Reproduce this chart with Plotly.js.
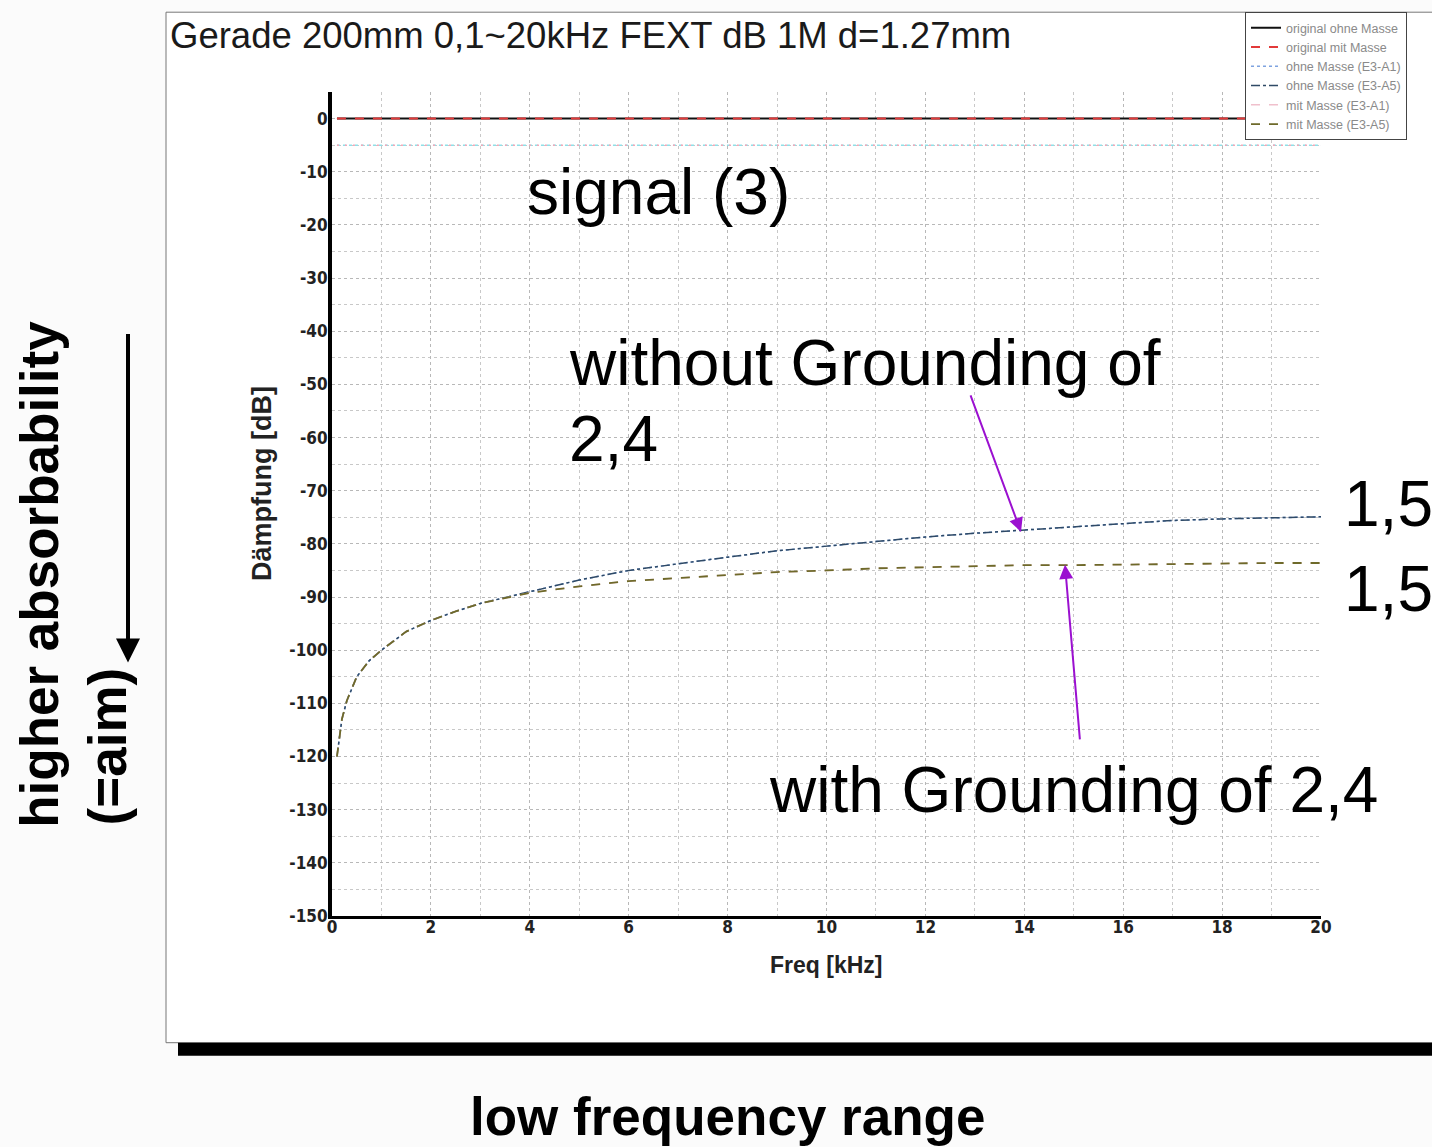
<!DOCTYPE html>
<html>
<head>
<meta charset="utf-8">
<script src="https://cdn.plot.ly/plotly-3.0.1.min.js"></script>
<style>
  html, body { margin: 0; padding: 0; background: #fbfbfb; }
  #chart { width: 1432px; height: 1147px; }
</style>
</head>
<body>
<div id="chart"></div>
<script>
// ---------------- data ----------------
const freq = [0.1, 0.2, 0.3, 0.5, 0.75, 1, 1.5, 2, 2.5, 3, 4, 5, 6, 7, 8, 9, 10, 11, 12, 13, 14, 15, 16, 17, 18, 19, 20];
const ohneMasse = [-120, -113, -109.5, -105, -102, -100, -96.5, -94.4, -92.7, -91.2, -89, -86.8, -85, -83.7, -82.5, -81.3, -80.4, -79.5, -78.7, -78, -77.4, -76.7, -76.1, -75.6, -75.3, -75.1, -74.9];
const mitMasse  = [-120, -113, -109.5, -105, -102, -100, -96.5, -94.4, -92.7, -91.2, -89.2, -88, -87, -86.4, -85.8, -85.3, -85, -84.6, -84.4, -84.2, -84, -84, -83.9, -83.7, -83.7, -83.6, -83.6];
const signalFreq = [0.1, 20];
const signalLevel = [0, 0];
const refLevel = [-5, -5];
const seriesNames = ["original ohne Masse", "original mit Masse", "ohne Masse (E3-A1)", "ohne Masse (E3-A5)", "mit Masse (E3-A1)", "mit Masse (E3-A5)"];
const xTicks = [0, 2, 4, 6, 8, 10, 12, 14, 16, 18, 20];
const yTicks = [0, -10, -20, -30, -40, -50, -60, -70, -80, -90, -100, -110, -120, -130, -140, -150];

// ---------------- geometry helpers (plot area in page pixels) ----------------
const L = 332, R = 1321, T = 90, B = 916, W = 1432, H = 1147;
const px = x => (x - L) / (R - L);
const py = y => (B - y) / (B - T);

const traces = [
  {x: signalFreq, y: refLevel, mode: 'lines', showlegend: false, line: {color: '#8fe0e8', width: 1.5, dash: 'dot'}},
  {x: signalFreq, y: refLevel, mode: 'lines', showlegend: false, line: {color: '#f4a6b8', width: 1.5, dash: '2px,6px'}},
  {x: signalFreq, y: signalLevel, name: seriesNames[0], mode: 'lines', line: {color: '#111111', width: 2}},
  {x: signalFreq, y: signalLevel, name: seriesNames[1], mode: 'lines', line: {color: '#e23a3a', width: 2, dash: 'dash'}},
  {x: freq, y: ohneMasse, name: seriesNames[2], mode: 'lines', line: {color: '#7fa3e0', width: 1.5, dash: 'dot'}},
  {x: freq, y: ohneMasse, name: seriesNames[3], mode: 'lines', line: {color: '#2f4a66', width: 1.5, dash: 'dashdot'}},
  {x: freq, y: mitMasse, name: seriesNames[4], mode: 'lines', line: {color: '#f0c0cc', width: 1.5, dash: 'dash'}},
  {x: freq, y: mitMasse, name: seriesNames[5], mode: 'lines', line: {color: '#6e6a2a', width: 1.8, dash: 'dash'}}
];

const tickFont = {family: 'DejaVu Sans Condensed, Liberation Sans Narrow, sans-serif', size: 17, color: '#222', weight: 'bold'};
const big = {family: 'Liberation Sans, Arial, sans-serif', size: 64, color: '#000'};
const bigBold = {family: 'Liberation Sans, Arial, sans-serif', size: 53, color: '#000', weight: 'bold'};

const annotations = [
  // chart-image title
  {xref: 'paper', yref: 'paper', x: px(168), y: py(33), xanchor: 'left', yanchor: 'middle', showarrow: false,
   text: 'Gerade 200mm 0,1~20kHz FEXT dB 1M d=1.27mm', font: {family: 'Liberation Sans, Arial, sans-serif', size: 36.5, color: '#1a1a1a'}},
  // axis titles
  {xref: 'paper', yref: 'paper', x: px(826), y: py(965), xanchor: 'center', yanchor: 'middle', showarrow: false,
   text: 'Freq [kHz]', font: {family: 'Liberation Sans, Arial, sans-serif', size: 23, color: '#222', weight: 'bold'}},
  {xref: 'paper', yref: 'paper', x: px(262), y: py(483), xanchor: 'center', yanchor: 'middle', showarrow: false, textangle: -90,
   text: 'Dämpfung [dB]', font: {family: 'Liberation Sans, Arial, sans-serif', size: 27, color: '#222', weight: 'bold'}},
  // slide texts
  {xref: 'paper', yref: 'paper', x: px(525), y: py(190), xanchor: 'left', yanchor: 'middle', showarrow: false, text: 'signal (3)', font: big},
  {xref: 'paper', yref: 'paper', x: px(567), y: py(362), xanchor: 'left', yanchor: 'middle', showarrow: false, text: 'without Grounding of', font: big},
  {xref: 'paper', yref: 'paper', x: px(567), y: py(438), xanchor: 'left', yanchor: 'middle', showarrow: false, text: '2,4', font: big},
  {xref: 'paper', yref: 'paper', x: px(1342), y: py(503), xanchor: 'left', yanchor: 'middle', showarrow: false, text: '1,5', font: big},
  {xref: 'paper', yref: 'paper', x: px(1342), y: py(588), xanchor: 'left', yanchor: 'middle', showarrow: false, text: '1,5', font: big},
  {xref: 'paper', yref: 'paper', x: px(767), y: py(790), xanchor: 'left', yanchor: 'middle', showarrow: false, text: 'with Grounding of 2,4', font: big},
  {xref: 'paper', yref: 'paper', x: px(727), y: py(1117), xanchor: 'center', yanchor: 'middle', showarrow: false, text: 'low frequency range', font: bigBold},
  {xref: 'paper', yref: 'paper', x: px(40), y: py(574), xanchor: 'center', yanchor: 'middle', showarrow: false, textangle: -90, text: 'higher absorbability', font: bigBold},
  {xref: 'paper', yref: 'paper', x: px(107), y: py(746), xanchor: 'center', yanchor: 'middle', showarrow: false, textangle: -90, text: '(=aim)', font: bigBold},
  // arrows
  {xref: 'paper', yref: 'paper', x: px(128), y: py(662), ax: 0, ay: -330, showarrow: true, text: '',
   arrowcolor: '#000', arrowwidth: 4, arrowhead: 2, arrowsize: 1.2},
  {xref: 'paper', yref: 'paper', x: px(1021), y: py(531), ax: -51, ay: -138, showarrow: true, text: '',
   arrowcolor: '#9b10d0', arrowwidth: 2, arrowhead: 2, arrowsize: 1.4},
  {xref: 'paper', yref: 'paper', x: px(1065), y: py(564), ax: 15, ay: 176, showarrow: true, text: '',
   arrowcolor: '#9b10d0', arrowwidth: 2, arrowhead: 2, arrowsize: 1.4}
];

const shapes = [
  // chart image frame
  {type: 'rect', xref: 'paper', yref: 'paper', x0: px(166), x1: px(1445), y0: py(1043), y1: py(10),
   fillcolor: '#ffffff', line: {color: '#777', width: 1}, layer: 'below'},
  // shadow bar
  {type: 'rect', xref: 'paper', yref: 'paper', x0: px(178), x1: px(1445), y0: py(1056), y1: py(1043),
   fillcolor: '#000', line: {width: 0}, layer: 'below'}
];

const layout = {
  width: W, height: H,
  margin: {l: L, r: W - R, t: T, b: H - B, pad: 0},
  paper_bgcolor: '#fbfbfb',
  plot_bgcolor: 'rgba(0,0,0,0)',
  showlegend: true,
  legend: {x: px(1245), y: py(10), xanchor: 'left', yanchor: 'top', bgcolor: '#ffffff', bordercolor: '#444', borderwidth: 1,
           font: {family: 'Liberation Sans, Arial, sans-serif', size: 12.5, color: '#8a8a8a'},
           tracegroupgap: 0, itemwidth: 30},
  xaxis: {range: [0, 20], tickvals: xTicks, ticktext: xTicks.map(String), showgrid: true, gridcolor: '#b8b8b8', griddash: 'dot', gridwidth: 1,
          minor: {dtick: 1, tick0: 0, showgrid: true, gridcolor: '#c8c8c8', griddash: 'dot'},
          showline: true, linecolor: '#000', linewidth: 3, zeroline: false, ticks: '', tickfont: tickFont, ticklabelstandoff: -6,
          automargin: false, fixedrange: true},
  yaxis: {range: [-150, 5], tickvals: yTicks, ticktext: yTicks.map(String), showgrid: true, gridcolor: '#b8b8b8', griddash: 'dot', gridwidth: 1,
          minor: {dtick: 5, tick0: 0, showgrid: true, gridcolor: '#c8c8c8', griddash: 'dot'},
          showline: true, linecolor: '#000', linewidth: 4, zeroline: false, ticks: '', tickfont: tickFont, ticklabelstandoff: -3,
          automargin: false, fixedrange: true},
  annotations: annotations,
  shapes: shapes
};

Plotly.newPlot('chart', traces, layout, {staticPlot: true, displayModeBar: false});
</script>
</body>
</html>
